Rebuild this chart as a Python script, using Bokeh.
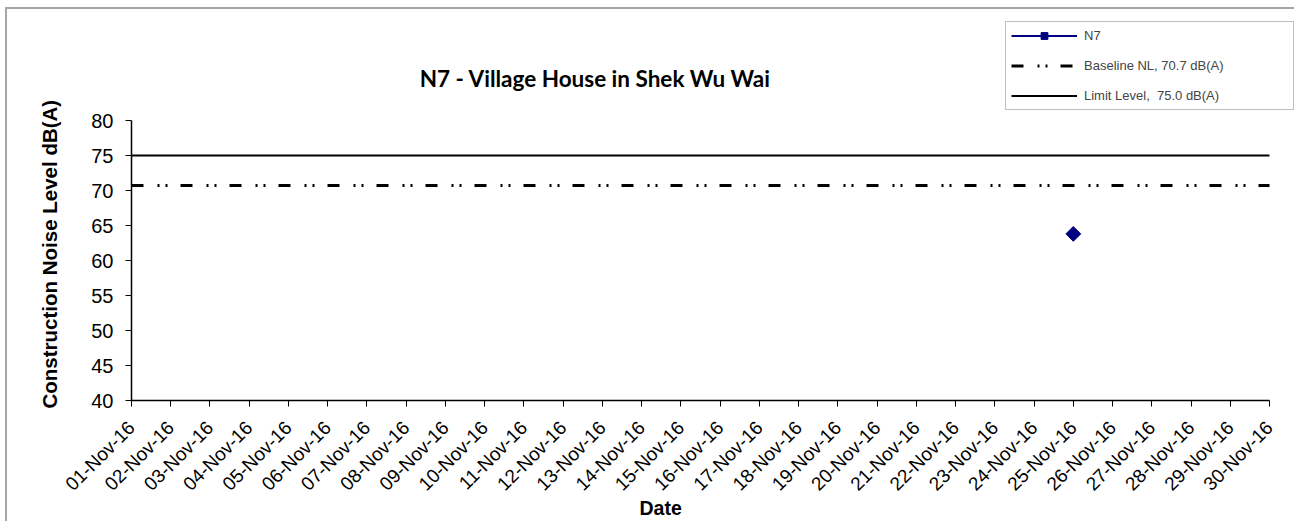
import math
from bokeh.plotting import figure
from bokeh.models import (FixedTicker, Label, Legend, LegendItem, ColumnDataSource, Range1d, Title)
from bokeh.embed import file_html
from bokeh.resources import INLINE

dates = ["01-Nov-16", "02-Nov-16", "03-Nov-16", "04-Nov-16", "05-Nov-16", "06-Nov-16",
         "07-Nov-16", "08-Nov-16", "09-Nov-16", "10-Nov-16", "11-Nov-16", "12-Nov-16",
         "13-Nov-16", "14-Nov-16", "15-Nov-16", "16-Nov-16", "17-Nov-16", "18-Nov-16",
         "19-Nov-16", "20-Nov-16", "21-Nov-16", "22-Nov-16", "23-Nov-16", "24-Nov-16",
         "25-Nov-16", "26-Nov-16", "27-Nov-16", "28-Nov-16", "29-Nov-16", "30-Nov-16"]
n7_values = [None] * 24 + [63.8] + [None] * 5
baseline_level = 70.7
limit_level = 75.0
y_ticks = [40, 45, 50, 55, 60, 65, 70, 75, 80]

title_text = "N7 - Village House in Shek Wu Wai"
ylabel_text = "Construction Noise Level  dB(A)"
xlabel_text = "Date"
legend_labels = ["N7", "Baseline NL, 70.7 dB(A)", "Limit Level,  75.0 dB(A)"]

ARIAL = "Liberation Sans"

# layout (pixel geometry of the picture)
OX, OY = 7, 9                      # canvas origin in picture
FL, FR, FB, FT_AX = 131, 1269, 400, 120   # axis box in picture
W, H = 1289, 514
px_day = (FR - FL) / (len(dates) - 1)
px_unit = (FB - FT_AX) / (max(y_ticks) - min(y_ticks))
frame_top = OY + 2
x_end = len(dates) + (OX + W - FR) / px_day
y_end = min(y_ticks) + (FB - frame_top) / px_unit

xs = list(range(1, len(dates) + 1))
n7_y = [float("nan") if v is None else v for v in n7_values]

p = figure(width=W, height=H, output_backend="svg", toolbar_location=None,
           x_range=Range1d(1, x_end), y_range=Range1d(min(y_ticks), y_end),
           min_border_left=FL - OX, min_border_right=0, min_border_top=frame_top - OY,
           min_border_bottom=H - (FB - OY))
p.styles = {"border-left": "2px solid #a6a6a6", "border-top": "2px solid #a6a6a6",
            "margin-left": "5px", "margin-top": "7px"}
p.outline_line_color = None
p.xgrid.visible = False
p.ygrid.visible = False
p.background_fill_color = "white"
p.border_fill_color = "white"

src = ColumnDataSource(dict(x=xs, y=n7_y))
r_n7_line = p.line("x", "y", source=src, line_color="#000080", line_width=2)
r_n7_pt = p.scatter("x", "y", source=src, marker="square", angle=math.pi / 4, size=10.5,
                    fill_color="#000080", line_color="#000080")
r_base = p.line([xs[0], xs[-1]], [baseline_level, baseline_level], line_color="black",
                line_width=3, line_dash="12 14 2 6 2 13")
r_lim = p.line([xs[0], xs[-1]], [limit_level, limit_level], line_color="black", line_width=2)

p.xaxis.ticker = FixedTicker(ticks=xs)
p.xaxis.bounds = (xs[0], xs[-1])
p.xaxis.major_label_overrides = {x: d for x, d in zip(xs, dates)}
p.xaxis.major_label_orientation = math.pi / 4
p.xaxis.major_label_text_font = ARIAL
p.xaxis.major_label_text_font_size = "19px"
p.xaxis.major_label_text_color = "black"
p.xaxis.major_label_standoff = 18
p.yaxis.ticker = FixedTicker(ticks=y_ticks)
p.yaxis.bounds = (min(y_ticks), max(y_ticks))
p.yaxis.major_label_text_font = ARIAL
p.yaxis.major_label_text_font_size = "20px"
p.yaxis.major_label_text_color = "black"
p.yaxis.major_label_standoff = 12
for ax in (p.xaxis, p.yaxis):
    ax.axis_line_color = "black"
    ax.axis_line_width = 1.5
    ax.major_tick_line_color = "black"
    ax.major_tick_out = 6
    ax.major_tick_in = 0
    ax.minor_tick_line_color = None

# axis titles as side-panel titles
p.add_layout(Title(text=ylabel_text, align="left", offset=-8, standoff=56,
                   text_font=ARIAL, text_font_size="20.5px", text_font_style="bold",
                   text_color="black"), "left")
p.add_layout(Title(text=xlabel_text, align="left", offset=508, standoff=-22,
                   text_font=ARIAL, text_font_size="19.5px", text_font_style="bold",
                   text_color="black"), "below")

# chart title inside the (extended) frame
p.add_layout(Label(x=12.82, y=86.0, text=title_text, text_font="Lato",
                   text_font_size="22.5px", text_font_style="bold", text_align="center",
                   text_baseline="middle", text_color="black"))

legend = Legend(items=[LegendItem(label=legend_labels[0], renderers=[r_n7_line, r_n7_pt]),
                       LegendItem(label=legend_labels[1], renderers=[r_base]),
                       LegendItem(label=legend_labels[2], renderers=[r_lim])],
                location=(1005 - FL, FB - 110), padding=5, spacing=13, glyph_width=66,
                glyph_height=17, label_height=17, label_width=204, label_standoff=7, margin=0,
                label_text_font=ARIAL, label_text_font_size="13px",
                border_line_color="#808080", border_line_width=1,
                background_fill_color="white", background_fill_alpha=1.0)
p.add_layout(legend, "center")

open("out.html", "w").write(file_html(p, INLINE))
